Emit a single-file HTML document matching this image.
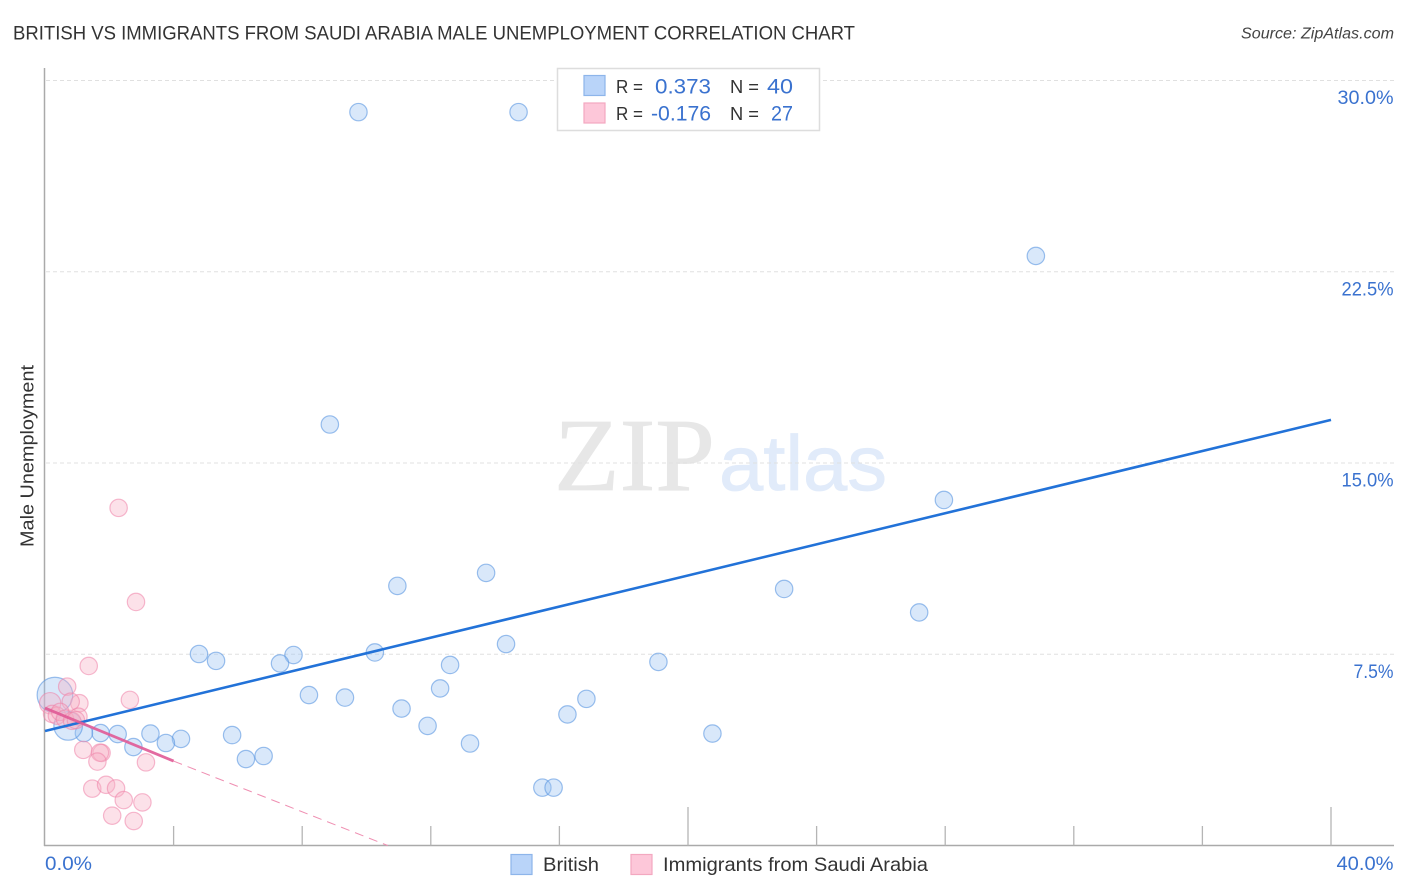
<!DOCTYPE html>
<html lang="en">
<head>
<meta charset="utf-8">
<title>British vs Immigrants from Saudi Arabia Male Unemployment Correlation Chart</title>
<style>
html,body{margin:0;padding:0;background:#fff;width:1406px;height:892px;overflow:hidden}
svg{display:block}
text{font-family:"Liberation Sans",sans-serif}
</style>
</head>
<body>
<svg id="chart" xmlns="http://www.w3.org/2000/svg" width="1406" height="892" viewBox="0 0 1406 892">
  <rect x="0" y="0" width="1406" height="892" fill="#ffffff"/>
  <text x="13" y="39.5" font-size="19.5" fill="#333333" textLength="842" lengthAdjust="spacingAndGlyphs">BRITISH VS IMMIGRANTS FROM SAUDI ARABIA MALE UNEMPLOYMENT CORRELATION CHART</text>
  <text x="1241" y="38.5" font-size="15.5" font-style="italic" fill="#444444" textLength="153" lengthAdjust="spacingAndGlyphs">Source: ZipAtlas.com</text>
  <text transform="translate(33.5,547) rotate(-90)" font-size="18.5" fill="#333333" textLength="182" lengthAdjust="spacingAndGlyphs">Male Unemployment</text>
  <g>
    <text x="554" y="490" font-size="104" fill="#e7e7e7" stroke="#e7e7e7" stroke-width="0.8" style="font-family:'Liberation Serif',serif" textLength="161" lengthAdjust="spacingAndGlyphs">ZIP</text>
    <text x="719" y="490" font-size="78" fill="#e1ebfa" stroke="#e1ebfa" stroke-width="0.8" textLength="168" lengthAdjust="spacingAndGlyphs">atlas</text>
  </g>
  <g id="grid"></g>
  <g id="axes"></g>
  <g id="points"></g>
  <g id="trends"></g>

  <g>
    <rect x="557.5" y="68.5" width="262" height="62" fill="#ffffff" stroke="#dddddd" stroke-width="1.5"/>
    <rect x="584" y="75.5" width="21" height="20" fill="#b9d4f9" stroke="#8db5ea" stroke-width="1.2"/>
    <text x="616" y="93" font-size="18.5" fill="#333333" textLength="27" lengthAdjust="spacingAndGlyphs">R =</text>
    <text x="655" y="93.5" font-size="21" fill="#3a72cf" textLength="56" lengthAdjust="spacingAndGlyphs">0.373</text>
    <text x="730" y="93" font-size="18.5" fill="#333333" textLength="29" lengthAdjust="spacingAndGlyphs">N =</text>
    <text x="767" y="93.5" font-size="21" fill="#3a72cf" textLength="26" lengthAdjust="spacingAndGlyphs">40</text>
    <rect x="584" y="103" width="21" height="20" fill="#fdc7d9" stroke="#f3a8c0" stroke-width="1.2"/>
    <text x="616" y="120" font-size="18.5" fill="#333333" textLength="27" lengthAdjust="spacingAndGlyphs">R =</text>
    <text x="651" y="120.5" font-size="21" fill="#3a72cf" textLength="60" lengthAdjust="spacingAndGlyphs">-0.176</text>
    <text x="730" y="120" font-size="18.5" fill="#333333" textLength="29" lengthAdjust="spacingAndGlyphs">N =</text>
    <text x="771" y="120.5" font-size="21" fill="#3a72cf" textLength="22" lengthAdjust="spacingAndGlyphs">27</text>
  </g>

  <g>
    <g>
      <rect x="511" y="854.5" width="21" height="20" fill="#b9d4f9" stroke="#8db5ea" stroke-width="1.2"/>
      <text x="543" y="871" font-size="19.5" fill="#333333" textLength="56" lengthAdjust="spacingAndGlyphs">British</text>
    </g>
    <g>
      <rect x="631" y="854.5" width="21" height="20" fill="#fdc7d9" stroke="#f3a8c0" stroke-width="1.2"/>
      <text x="663" y="871" font-size="19.5" fill="#333333" textLength="265" lengthAdjust="spacingAndGlyphs">Immigrants from Saudi Arabia</text>
    </g>
  </g>
</svg>
<script>
// ---- data (percent units) ----
const britishX = [9.75,14.73,30.82,8.86,27.96,13.72,10.96,22.99,27.19,14.34,4.79,5.32,7.73,7.31,10.26,12.60,19.08,12.29,8.21,9.33,16.84,11.09,16.25,11.90,20.76,13.22,3.28,4.23,3.76,5.82,2.26,1.73,1.21,2.75,6.25,6.80,15.47,15.82,0.31,0.72];
const britishY = [28.76,28.76,23.12,16.51,13.55,10.69,10.18,10.06,9.14,7.90,7.51,7.24,7.47,7.14,7.57,7.08,7.20,6.16,5.90,5.80,5.75,5.37,5.14,4.69,4.39,4.00,4.39,4.18,4.02,4.33,4.37,4.41,4.41,3.86,3.39,3.51,2.27,2.27,5.90,4.69];
const britishWeight = [1,1,1,1,1,1,1,1,1,1,1,1,1,1,1,1,1,1,1,1,1,1,1,1,1,1,1,1,1,1,1,1,1,1,1,1,1,1,4.2,2.7];
const saudiX = [1.36,2.64,0.69,1.07,0.80,1.04,0.16,0.22,0.37,0.47,0.62,0.84,0.96,1.19,1.76,1.71,1.63,3.14,1.47,1.90,2.21,2.45,3.03,2.09,2.76,2.29,2.83];
const saudiY = [7.04,5.71,6.23,5.58,5.64,5.05,5.58,5.16,5.09,5.24,4.97,4.89,4.92,3.75,3.63,3.64,3.29,3.26,2.23,2.38,2.24,1.78,1.69,1.17,0.96,13.24,9.55];
const saudiWeight = [1,1,1,1,1,1,1.5,1,1,1,1,1,1,1,1,1,1,1,1,1,1,1,1,1,1,1,1];
const britishTrendX = [0,40];
const britishTrendY = [4.49,16.69];
const saudiTrendSolidX = [0,4];
const saudiTrendSolidY = [5.39,3.31];
const saudiTrendDashedX = [4,10.66];
const saudiTrendDashedY = [3.31,0];
const yTicks = [7.5,15,22.5,30];
const yTickLabels = ['7.5%','15.0%','22.5%','30.0%'];
const xTicks = [4,8,12,16,20,24,28,32,36,40];
const xMajorTicks = [20,40];
const xEndValues = [0,40];
const xEndLabels = ['0.0%','40.0%'];

// ---- axis functions ----
const xScale = v => 45 + v * 32.15;
const yScale = v => 845.5 - v * 25.5;
const NS = 'http://www.w3.org/2000/svg';
const labelPixelWidth = {'7.5%':40,'15.0%':52,'22.5%':52,'30.0%':56,'0.0%':47,'40.0%':57};
function make(tag, parent, attrs) {
  const el = document.createElementNS(NS, tag);
  for (const k in attrs) el.setAttribute(k, attrs[k]);
  parent.appendChild(el);
  return el;
}
function fitLabel(el, s) {
  if (labelPixelWidth[s]) {
    el.setAttribute('textLength', labelPixelWidth[s]);
    el.setAttribute('lengthAdjust', 'spacingAndGlyphs');
  }
}
const grid = document.getElementById('grid');
const axes = document.getElementById('axes');
const points = document.getElementById('points');
const trends = document.getElementById('trends');

// gridlines and y tick labels
yTicks.forEach((t, i) => {
  const line = make('line', grid, {x1:46, x2:1394, y1:yScale(t), y2:yScale(t), stroke:'#e0e0e0', 'stroke-width':1, 'stroke-dasharray':'4 3'});
  
  
  const label = make('text', axes, {x:1393.5, y:yScale(t) + 23.5, 'text-anchor':'end', 'font-size':19, fill:'#3a72cf'});
  
  
  label.textContent = yTickLabels[i];
  fitLabel(label, yTickLabels[i]);
});

// axis lines
const yAxis = make('line', axes, {x1:44.5, x2:44.5, y1:68, y2:846, stroke:'#aaaaaa', 'stroke-width':1.5});


const xAxis = make('line', axes, {x1:44, x2:1394, y1:845.5, y2:845.5, stroke:'#aaaaaa', 'stroke-width':1.5});



// x ticks
xTicks.forEach(t => {
  const top = xMajorTicks.includes(t) ? 807 : 826;
  const tick = make('line', axes, {x1:xScale(t), x2:xScale(t), y1:top, y2:845.5, stroke:'#b5b5b5', 'stroke-width':1.3});
  
  
});
xEndValues.forEach((v, i) => {
  const label = make('text', axes, {x: i === 0 ? xScale(v) : 1393.5, y:870, 'text-anchor': i === 0 ? 'start' : 'end', 'font-size':19, fill:'#3a72cf'});
  
  
  label.textContent = xEndLabels[i];
  fitLabel(label, xEndLabels[i]);
});

// points
britishX.forEach((x, i) => {
  const c = make('circle', points, {cx:xScale(x), cy:yScale(britishY[i]), r:8.7 * Math.sqrt(britishWeight[i]), fill:'rgba(155,195,242,0.38)', stroke:'rgba(90,150,225,0.6)', 'stroke-width':1.2});
  
  
});
saudiX.forEach((x, i) => {
  const c = make('circle', points, {cx:xScale(x), cy:yScale(saudiY[i]), r:8.7 * Math.sqrt(saudiWeight[i]), fill:'rgba(248,175,198,0.38)', stroke:'rgba(238,130,168,0.55)', 'stroke-width':1.2});
  
  
});

// trend lines
const bt = make('line', trends, {x1:xScale(britishTrendX[0]), y1:yScale(britishTrendY[0]), x2:xScale(britishTrendX[1]), y2:yScale(britishTrendY[1]), stroke:'#2272d8', 'stroke-width':2.6});


const st = make('line', trends, {x1:xScale(saudiTrendSolidX[0]), y1:yScale(saudiTrendSolidY[0]), x2:xScale(saudiTrendSolidX[1]), y2:yScale(saudiTrendSolidY[1]), stroke:'rgba(224,90,150,0.9)', 'stroke-width':2.8});


const sd = make('line', trends, {x1:xScale(saudiTrendDashedX[0]), y1:yScale(saudiTrendDashedY[0]), x2:xScale(saudiTrendDashedX[1]), y2:yScale(saudiTrendDashedY[1]), stroke:'#ef8fb2', 'stroke-width':1, 'stroke-dasharray':'9 6'});


</script>
</body>
</html>
